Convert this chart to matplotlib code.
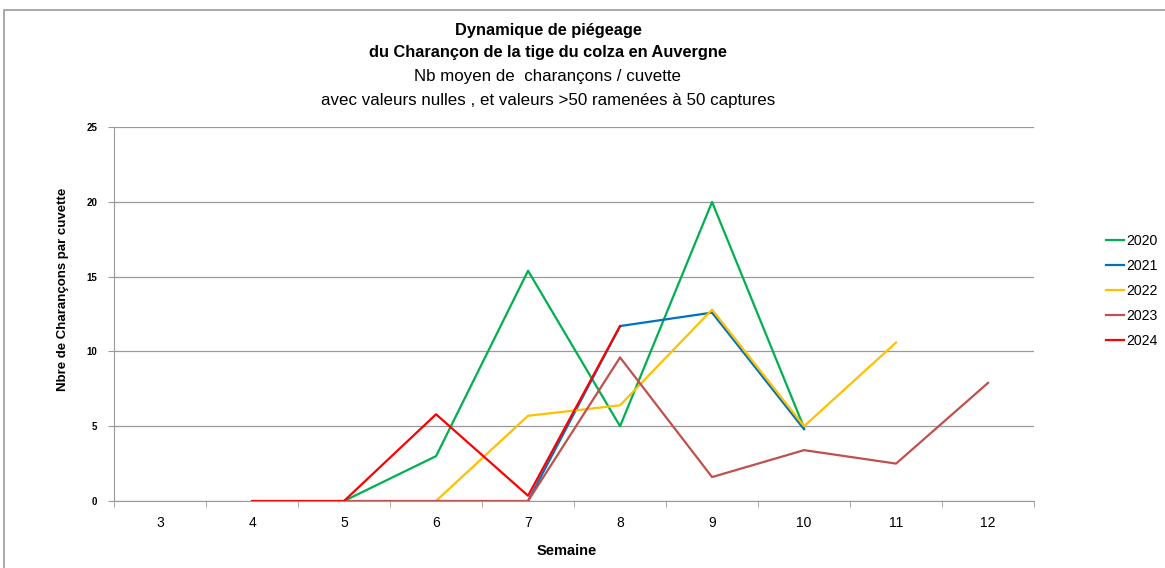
import numpy as np
import matplotlib
matplotlib.use("Agg")
import matplotlib.pyplot as plt
from matplotlib.patches import Rectangle

plt.rcParams['font.family'] = ['Liberation Sans', 'DejaVu Sans']

semaines = [3, 4, 5, 6, 7, 8, 9, 10, 11, 12]
annees = ['2020', '2021', '2022', '2023', '2024']
couleurs = ['#00B050', '#0070C0', '#FFC000', '#C0504D', '#FF0000']

# valeurs par semaine (None = pas de donnee)
v2020 = [None, None, 0, 3.0, 15.4, 5.0, 20.0, 4.9, None, None]
v2021 = [None, None, None, None, 0, 11.7, 12.6, 4.8, None, None]
v2022 = [None, None, None, 0, 5.7, 6.4, 12.8, 5.0, 10.6, None]
v2023 = [None, None, 0, 0, 0, 9.6, 1.6, 3.4, 2.5, 7.9]
v2024 = [None, 0, 0, 5.8, 0.35, 11.7, None, None, None, None]
series = [v2020, v2021, v2022, v2023, v2024]

fig = plt.figure(figsize=(11.65, 5.68), dpi=100)
ax = fig.add_axes([0.0979, 0.118, 0.7897, 0.658])

x = np.arange(len(semaines))
for nom, col, vals in zip(annees, couleurs, series):
    y = np.array([np.nan if v is None else v for v in vals], dtype=float)
    ax.plot(x, y, color=col, lw=1.6, label=nom)

ax.set_xlim(-0.5, len(semaines) - 0.5)
ax.set_ylim(0, 25)
ax.set_yticks([0, 5, 10, 15, 20, 25])
ax.set_yticklabels(['0', '5', '10', '15', '20', '25'], fontsize=7, fontweight='bold')
ax.set_xticks(x)
ax.set_xticklabels([str(s) for s in semaines], fontsize=10)
ax.tick_params(axis='x', length=0, pad=11)
ax.set_xticks(np.arange(-0.5, len(semaines)), minor=True)
ax.tick_params(axis='x', which='minor', length=4, color='#999999', direction='out')
ax.tick_params(axis='y', length=4, color='#999999', direction='out', pad=8)
ax.grid(axis='y', color='#999999', lw=0.9)
ax.set_axisbelow(True)
for s in ['top', 'right']:
    ax.spines[s].set_visible(False)
for s in ['left', 'bottom']:
    ax.spines[s].set_color('#999999')

ax.set_xlabel('Semaine', fontsize=10.5, fontweight='bold')
ax.xaxis.set_label_coords(0.492, -0.115)
ax.set_ylabel('Nbre de Charançons par cuvette', fontsize=9.5, fontweight='bold')
ax.yaxis.set_label_coords(-0.049, 0.567)

cx = 548 / 1165
fig.text(cx, 1 - 30 / 568, 'Dynamique de piégeage', ha='center', va='center', fontsize=11.8, fontweight='bold')
fig.text(cx, 1 - 53 / 568, 'du Charançon de la tige du colza en Auvergne', ha='center', va='center', fontsize=11.8, fontweight='bold')
fig.text(cx, 1 - 76 / 568, 'Nb moyen de  charançons / cuvette', ha='center', va='center', fontsize=12.2)
fig.text(cx, 1 - 100 / 568, 'avec valeurs nulles , et valeurs >50 ramenées à 50 captures', ha='center', va='center', fontsize=12.2)

fig.legend(loc='center left', bbox_to_anchor=(1106 / 1165, 1 - 291 / 568), frameon=False, fontsize=10.2,
           handlelength=1.3, handletextpad=0.15, labelspacing=0.78, borderaxespad=0, borderpad=0)

fig.patches.append(Rectangle((4 / 1165, -0.01), 1.0, 1 - 10 / 568 + 0.01, transform=fig.transFigure,
                             fill=False, edgecolor='#999999', lw=1.2))

fig.savefig('out.png', dpi=100)
